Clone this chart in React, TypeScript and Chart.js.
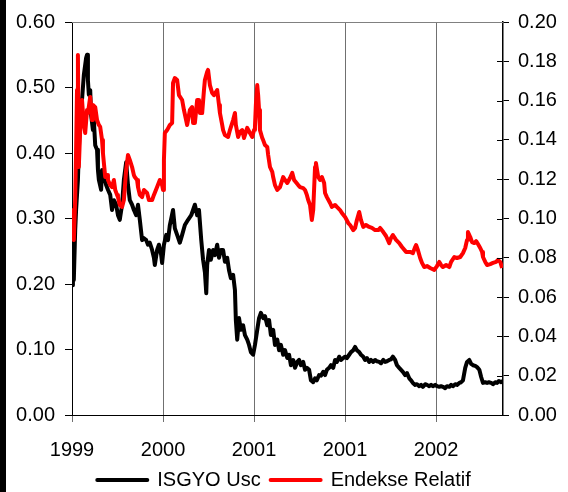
import { useEffect, useRef } from 'react';
import { Chart, registerables } from 'chart.js';

Chart.register(...registerables);

const xTickDays = [0, 200, 400, 600, 800];
const xTickLabels = ['1999', '2000', '2001', '2001', '2002'];
const lastDay = 947;

const isgyoDays = [
  0, 2, 4, 7, 9, 13, 18, 22, 26, 31, 33, 35, 37, 40, 42, 46, 48, 51, 55, 57, 59, 64, 66, 70, 75, 79, 84, 88, 92, 97,
  101, 105, 110, 114, 119, 123, 127, 132, 136, 141, 145, 149, 154, 158, 163, 167, 171, 176, 180, 182, 187, 191, 196, 198,
  202, 207, 211, 215, 222, 226, 231, 237, 242, 248, 255, 262, 266, 270, 275, 279, 284, 288, 292, 295, 297, 301, 305, 310,
  314, 319, 323, 327, 332, 336, 341, 345, 349, 354, 358, 360, 363, 367, 371, 376, 380, 385, 389, 393, 398, 402, 407, 411,
  415, 420, 424, 429, 433, 437, 442, 446, 451, 455, 459, 464, 468, 473, 477, 481, 486, 490, 495, 499, 503, 508, 512, 516,
  521, 525, 530, 534, 538, 543, 547, 552, 556, 560, 565, 569, 574, 578, 582, 587, 591, 596, 600, 604, 609, 613, 618, 622,
  626, 631, 635, 640, 644, 648, 653, 657, 662, 666, 670, 675, 679, 684, 688, 692, 697, 701, 705, 710, 714, 719, 723, 727,
  732, 736, 741, 745, 749, 754, 758, 763, 767, 771, 776, 780, 785, 789, 793, 798, 802, 807, 811, 815, 820, 824, 829, 833,
  837, 842, 846, 851, 855, 859, 864, 868, 873, 877, 881, 886, 890, 895, 899, 903, 908, 912, 916, 921, 925, 930, 934, 938,
  943, 947,
];
const isgyoUsc = [
  0.198, 0.252, 0.206, 0.282, 0.313, 0.359, 0.466, 0.481, 0.519, 0.545, 0.55, 0.511, 0.489, 0.496, 0.458, 0.435, 0.45,
  0.412, 0.405, 0.374, 0.359, 0.344, 0.374, 0.366, 0.351, 0.344, 0.336, 0.313, 0.328, 0.321, 0.305, 0.298, 0.321, 0.359,
  0.386, 0.351, 0.328, 0.321, 0.313, 0.305, 0.321, 0.298, 0.267, 0.27, 0.267, 0.26, 0.263, 0.252, 0.24, 0.229, 0.252,
  0.26, 0.244, 0.232, 0.26, 0.275, 0.267, 0.29, 0.313, 0.285, 0.275, 0.263, 0.275, 0.29, 0.298, 0.305, 0.313, 0.321,
  0.305, 0.313, 0.267, 0.237, 0.218, 0.186, 0.229, 0.252, 0.237, 0.252, 0.244, 0.26, 0.24, 0.252, 0.252, 0.234, 0.24,
  0.221, 0.209, 0.214, 0.191, 0.145, 0.115, 0.148, 0.13, 0.137, 0.122, 0.115, 0.107, 0.096, 0.092, 0.107, 0.13, 0.148,
  0.156, 0.148, 0.151, 0.137, 0.145, 0.122, 0.13, 0.107, 0.115, 0.099, 0.107, 0.092, 0.099, 0.087, 0.092, 0.076, 0.084,
  0.072, 0.081, 0.084, 0.076, 0.081, 0.069, 0.072, 0.069, 0.053, 0.05, 0.056, 0.053, 0.061, 0.06, 0.066, 0.061, 0.069,
  0.072, 0.076, 0.072, 0.084, 0.081, 0.089, 0.084, 0.087, 0.089, 0.087, 0.092, 0.096, 0.099, 0.104, 0.099, 0.096, 0.092,
  0.089, 0.084, 0.087, 0.081, 0.084, 0.081, 0.084, 0.082, 0.081, 0.079, 0.084, 0.081, 0.082, 0.084, 0.085, 0.089, 0.084,
  0.076, 0.072, 0.069, 0.066, 0.061, 0.064, 0.056, 0.053, 0.049, 0.046, 0.047, 0.044, 0.046, 0.043, 0.047, 0.046, 0.044,
  0.046, 0.044, 0.046, 0.044, 0.043, 0.044, 0.043, 0.041, 0.044, 0.043, 0.046, 0.044, 0.047, 0.046, 0.049, 0.05, 0.053,
  0.072, 0.081, 0.084, 0.078, 0.076, 0.075, 0.073, 0.069, 0.058, 0.049, 0.05, 0.049, 0.05, 0.049, 0.047, 0.05, 0.049,
  0.052, 0.05, 0.052,
];

const endeksDays = [
  0, 2, 4, 7, 9, 11, 13, 15, 18, 22, 26, 29, 33, 35, 40, 44, 46, 51, 55, 59, 62, 66, 68, 73, 77, 79, 84, 88, 92, 95, 99,
  101, 105, 110, 114, 119, 123, 127, 132, 136, 138, 143, 145, 149, 154, 158, 165, 169, 176, 180, 187, 193, 198, 200, 202,
  204, 209, 215, 220, 222, 226, 231, 235, 242, 246, 253, 259, 264, 266, 270, 275, 279, 281, 286, 290, 292, 297, 299, 303,
  308, 312, 319, 323, 325, 330, 332, 336, 343, 347, 354, 358, 360, 365, 369, 374, 378, 385, 391, 396, 400, 402, 404, 407,
  409, 411, 413, 418, 420, 424, 429, 431, 435, 440, 442, 446, 451, 457, 464, 468, 473, 479, 484, 488, 497, 501, 508, 512,
  516, 519, 523, 527, 530, 534, 536, 541, 545, 549, 554, 556, 560, 567, 571, 578, 582, 589, 593, 600, 607, 611, 618, 622,
  626, 631, 635, 640, 646, 653, 659, 666, 673, 677, 684, 690, 697, 701, 705, 712, 719, 725, 734, 743, 749, 754, 756, 760,
  765, 769, 774, 780, 787, 796, 802, 807, 811, 815, 822, 829, 833, 840, 846, 853, 859, 864, 868, 870, 875, 879, 884, 888,
  892, 897, 901, 903, 908, 912, 919, 925, 932, 936, 941, 945,
];
const endeksRelatif = [
  0.0941, 0.1043, 0.0891, 0.1094, 0.1349, 0.1654, 0.1832, 0.1262, 0.145, 0.1603, 0.1476, 0.1435, 0.1552, 0.1537, 0.1618,
  0.1501, 0.1578, 0.1567, 0.1501, 0.1476, 0.1466, 0.1399, 0.1333, 0.1211, 0.1221, 0.1196, 0.117, 0.116, 0.1196, 0.1145,
  0.112, 0.1109, 0.1069, 0.1059, 0.1094, 0.1247, 0.1323, 0.1298, 0.1262, 0.1221, 0.1211, 0.1196, 0.116, 0.112, 0.1109,
  0.1145, 0.113, 0.1094, 0.1094, 0.112, 0.116, 0.1196, 0.117, 0.1145, 0.1298, 0.1435, 0.145, 0.1476, 0.1486, 0.169,
  0.1715, 0.1705, 0.1628, 0.1603, 0.1552, 0.1476, 0.1552, 0.1567, 0.1486, 0.1486, 0.1603, 0.1603, 0.1537, 0.1537, 0.1654,
  0.1705, 0.1746, 0.1756, 0.1679, 0.1639, 0.1628, 0.1654, 0.1578, 0.1537, 0.1476, 0.145, 0.1425, 0.1415, 0.145, 0.1501,
  0.1537, 0.1476, 0.1415, 0.144, 0.145, 0.141, 0.1461, 0.1435, 0.1415, 0.145, 0.1466, 0.1578, 0.1679, 0.1628, 0.1552,
  0.145, 0.141, 0.1399, 0.1374, 0.1364, 0.1323, 0.1262, 0.1237, 0.1211, 0.117, 0.1145, 0.116, 0.1211, 0.1196, 0.1181,
  0.1206, 0.1232, 0.1196, 0.117, 0.116, 0.1155, 0.1145, 0.112, 0.1094, 0.1069, 0.0992, 0.1043, 0.1262, 0.1282, 0.1211,
  0.1196, 0.1211, 0.1181, 0.113, 0.1109, 0.1079, 0.1059, 0.1069, 0.1059, 0.1043, 0.1028, 0.1008, 0.0977, 0.0967, 0.0941,
  0.0952, 0.0992, 0.1033, 0.0992, 0.0957, 0.0967, 0.0957, 0.0952, 0.0941, 0.0941, 0.0952, 0.0931, 0.0911, 0.0875, 0.0901,
  0.0916, 0.0891, 0.0875, 0.0855, 0.083, 0.083, 0.0824, 0.0855, 0.0865, 0.084, 0.0799, 0.0774, 0.0753, 0.0758, 0.0748,
  0.0738, 0.0758, 0.0779, 0.0763, 0.0753, 0.0763, 0.0753, 0.0779, 0.0804, 0.0799, 0.0804, 0.0824, 0.085, 0.0891, 0.0931,
  0.0906, 0.088, 0.0875, 0.0885, 0.087, 0.085, 0.083, 0.0804, 0.0779, 0.0763, 0.0768, 0.0774, 0.0779, 0.0789, 0.0779,
  0.0748,
];

const FONT = "'Liberation Sans', Arial, sans-serif";

export default function App() {
  const ref = useRef<HTMLCanvasElement>(null);

  useEffect(() => {
    if (!ref.current) return;
    const frame = {
      id: 'frame',
      afterDraw(chart: any) {
        const { ctx, chartArea } = chart;
        const y1 = chart.scales.y1;
        ctx.save();
        ctx.strokeStyle = '#000';
        ctx.lineWidth = 1;
        y1.ticks.forEach((t: any) => {
          const py = Math.round(y1.getPixelForValue(t.value)) + 0.5;
          ctx.beginPath();
          ctx.moveTo(chartArea.right - 6, py);
          ctx.lineTo(chartArea.right, py);
          ctx.stroke();
        });
        ctx.strokeStyle = '#808080';
        ctx.beginPath();
        ctx.moveTo(chartArea.left, Math.round(chartArea.top) + 0.5);
        ctx.lineTo(chartArea.right, Math.round(chartArea.top) + 0.5);
        ctx.stroke();
        ctx.restore();
      },
    };

    const chart = new Chart(ref.current, {
      type: 'line',
      data: {
        datasets: [
          {
            label: 'ISGYO Usc',
            data: isgyoDays.map((d, i) => ({ x: d, y: isgyoUsc[i] })),
            borderColor: '#000000',
            backgroundColor: '#000000',
            borderWidth: 4,
            pointRadius: 0,
            yAxisID: 'y',
            order: 1,
            borderJoinStyle: 'round',
          },
          {
            label: 'Endekse Relatif',
            data: endeksDays.map((d, i) => ({ x: d, y: endeksRelatif[i] })),
            borderColor: '#ff0000',
            backgroundColor: '#ff0000',
            borderWidth: 4,
            pointRadius: 0,
            yAxisID: 'y1',
            order: 0,
            borderJoinStyle: 'round',
          },
        ],
      },
      options: {
        animation: false,
        responsive: false,
        layout: { padding: { top: 22, left: 0, right: 0, bottom: 0 } },
        plugins: {
          tooltip: { enabled: false },
          legend: {
            position: 'bottom',
            labels: {
              boxWidth: 50,
              boxHeight: 0,
              padding: 10,
              color: '#000',
              font: { family: FONT, size: 20 },
              sort: (a: any, b: any) => a.datasetIndex - b.datasetIndex,
            },
          },
        },
        scales: {
          x: {
            type: 'linear',
            min: 0,
            max: lastDay,
            afterBuildTicks: (s: any) => {
              s.ticks = xTickDays.map((v) => ({ value: v }));
            },
            afterFit: (s: any) => {
              s.height = 45;
            },
            ticks: {
              autoSkip: false,
              maxRotation: 0,
              padding: 16,
              color: '#000',
              font: { family: FONT, size: 20 },
              callback: (v: any) => xTickLabels[xTickDays.indexOf(Number(v))] ?? '',
            },
            grid: { color: '#707070', lineWidth: 1, tickLength: 7 },
            border: { color: '#000', width: 1 },
          },
          y: {
            position: 'left',
            min: 0,
            max: 0.6,
            afterFit: (s: any) => {
              s.width = 72;
            },
            ticks: {
              stepSize: 0.1,
              padding: 10,
              color: '#000',
              font: { family: FONT, size: 20 },
              callback: (v: any) => Number(v).toFixed(2),
            },
            grid: { drawOnChartArea: false, color: '#000', tickLength: 7 },
            border: { color: '#000', width: 1 },
          },
          y1: {
            position: 'right',
            min: 0,
            max: 0.2,
            afterFit: (s: any) => {
              s.width = 65;
            },
            ticks: {
              stepSize: 0.02,
              padding: 9,
              color: '#000',
              font: { family: FONT, size: 20 },
              callback: (v: any) => Number(v).toFixed(2),
            },
            grid: { drawOnChartArea: false, color: '#000', tickLength: 6 },
            border: { color: '#000', width: 1.5 },
          },
        },
      },
      plugins: [frame],
    } as any);

    return () => chart.destroy();
  }, []);

  return (
    <div
      style={{
        position: 'fixed',
        left: 0,
        top: 0,
        width: 568,
        height: 492,
        overflow: 'hidden',
        background: '#fff',
      }}
    >
      <canvas ref={ref} width={568} height={500} style={{ display: 'block' }} />
      <div style={{ position: 'absolute', left: 0, top: 0, width: 6, height: 492, background: '#000' }} />
    </div>
  );
}
